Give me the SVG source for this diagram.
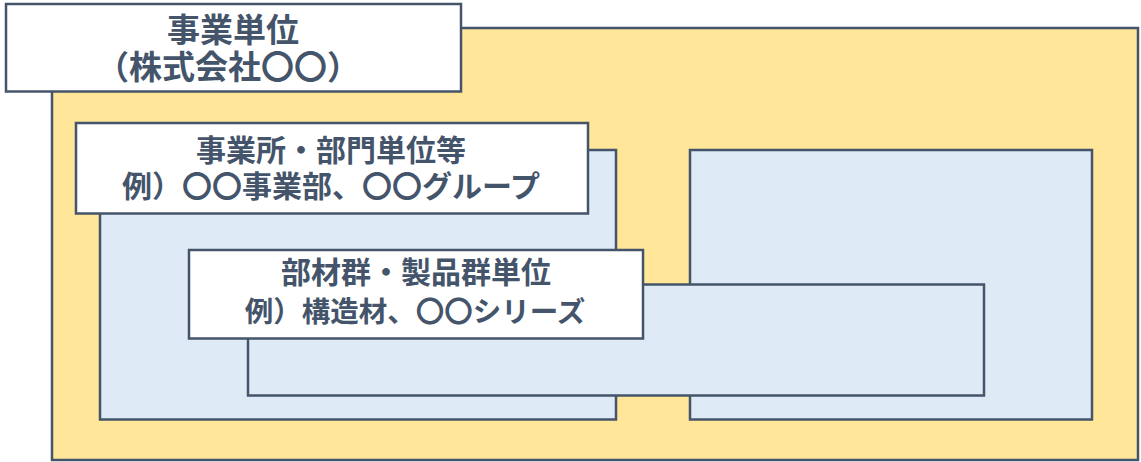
<svg xmlns="http://www.w3.org/2000/svg" width="1141" height="462" viewBox="0 0 1141 462">
<style>
.box{stroke:#44546A;stroke-width:2.5}
.y{fill:#FFE699}
.b{fill:#DEEAF6}
.w{fill:#FFFFFF}
text{font-family:"Noto Sans CJK JP","Noto Sans CJK SC",sans-serif;font-weight:bold;font-size:30px;fill:#44546A;text-anchor:middle}
.big{font-size:33px}
.sm{font-size:28.5px}
</style>
<rect width="1141" height="462" fill="#FFFFFF"/>
<g id="company-area"><rect class="box y" x="52" y="28" width="1086" height="432"/></g>
<g id="division-left"><rect class="box b" x="100" y="150" width="516" height="269.5"/></g>
<g id="division-right"><rect class="box b" x="690" y="150" width="402" height="269.5"/></g>
<g id="product-area"><rect class="box b" x="248" y="284.5" width="736" height="111"/></g>
<g id="label-company">
<rect class="box w" x="6" y="4" width="455" height="87.5"/>
<text class="big" x="233" y="42">事業単位</text>
<text class="big" x="228" y="79">（株式会社〇〇）</text>
</g>
<g id="label-division">
<rect class="box w" x="76" y="123" width="512" height="90.5"/>
<text x="331" y="161">事業所・部門単位等</text>
<text x="331" y="197">例）〇〇事業部、〇〇グループ</text>
</g>
<g id="label-product">
<rect class="box w" x="189" y="250" width="454" height="88.5"/>
<text x="416" y="283">部材群・製品群単位</text>
<text class="sm" x="415" y="322">例）構造材、〇〇シリーズ</text>
</g>
<g id="connectors"/>
</svg>
